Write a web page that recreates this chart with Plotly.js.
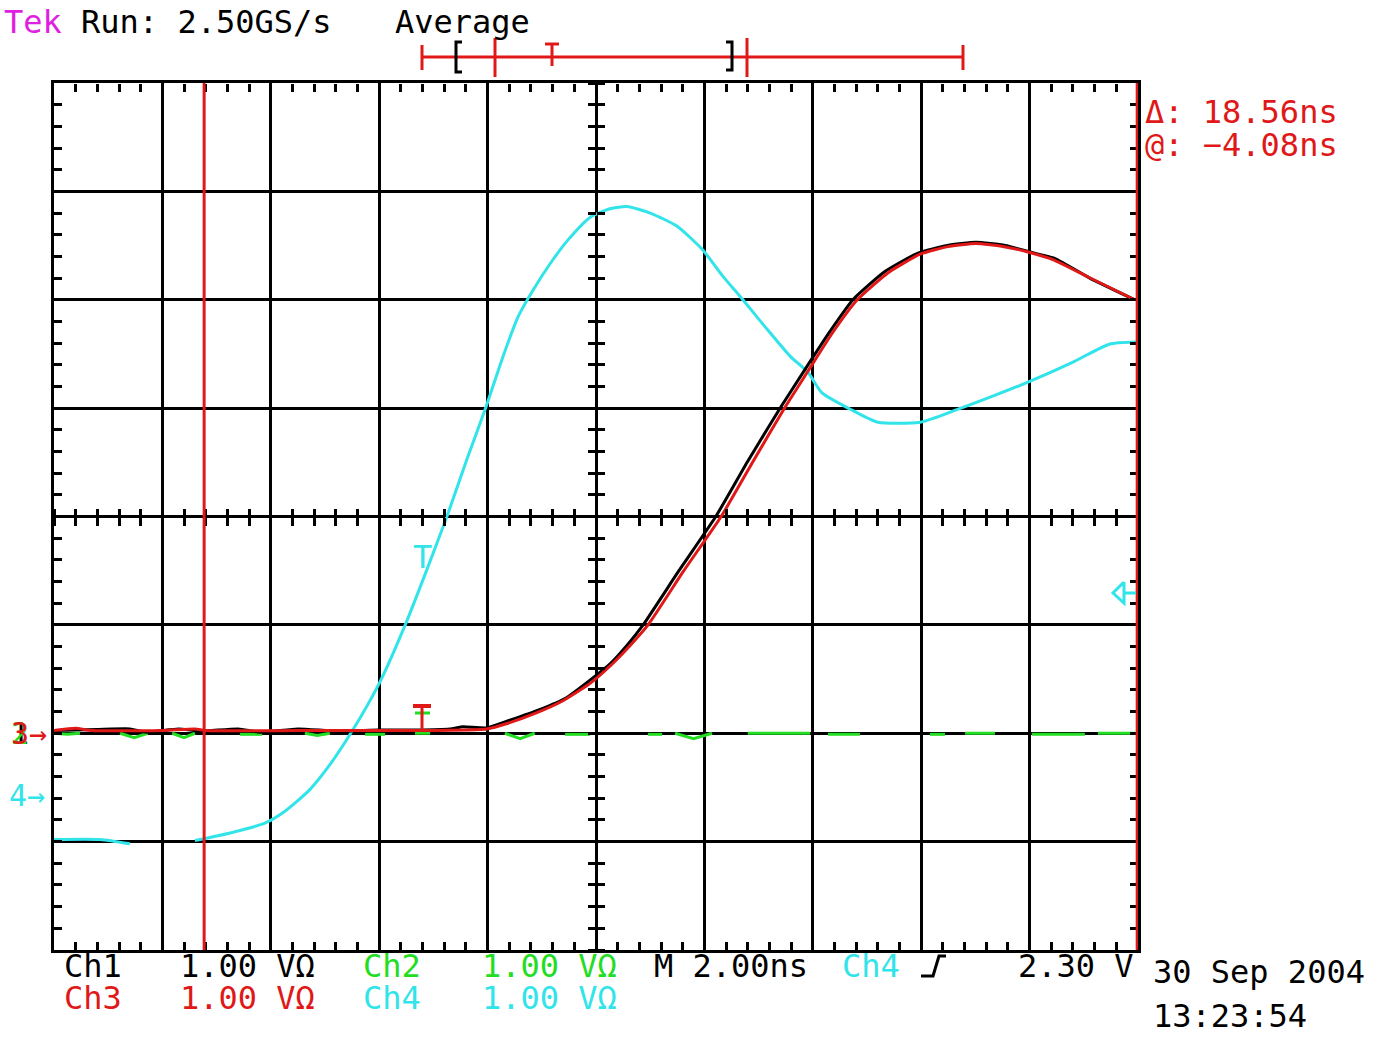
<!DOCTYPE html>
<html>
<head>
<meta charset="utf-8">
<script src="https://cdn.plot.ly/plotly-3.0.1.min.js"></script>
<style>
  html, body { margin: 0; padding: 0; background: #ffffff; }
  #chart { width: 1378px; height: 1054px; }
</style>
</head>
<body>
<div id="chart"></div>
<script>
// ---- Data (time in ns, vertical in screen divisions, 1 V/div) ----
const ch4Time  = [-10, -9.15, -8.6, null, -7.40, -6.75, -6.11, -5.74, -5.28, -4.91, -4.50, -3.99, -3.52, -3.12, -2.75, -2.38, -2.03, -1.72, -1.44, -1.16, -0.85, -0.52, -0.11, 0.26, 0.57, 1.00, 1.49, 1.97, 2.32, 2.71, 3.12, 3.58, 3.91, 4.17, 4.69, 5.20, 5.98, 6.68, 7.32, 7.97, 8.82, 9.47, 9.96];
const ch4Volts = [-2.98, -2.98, -3.02, null, -2.99, -2.92, -2.83, -2.72, -2.52, -2.29, -1.98, -1.53, -1.00, -0.49, 0.00, 0.53, 1.01, 1.47, 1.84, 2.09, 2.33, 2.55, 2.76, 2.84, 2.86, 2.80, 2.68, 2.46, 2.23, 2.00, 1.75, 1.48, 1.33, 1.14, 0.99, 0.87, 0.87, 0.99, 1.11, 1.24, 1.43, 1.59, 1.61];

const ch3Time  = [-10, -9.6, -9.3, -8.0, -7.4, -7.2, -5.5, -3.25, -2.01, -1.64, -1.09, -0.61, -0.11, 0.28, 0.63, 0.96, 1.62, 2.31, 2.90, 3.49, 3.91, 4.37, 4.82, 5.39, 5.98, 6.49, 7.01, 7.53, 7.97, 8.43, 9.08, 9.94];
const ch3Volts = [-1.975, -1.955, -1.975, -1.975, -1.96, -1.975, -1.975, -1.975, -1.96, -1.91, -1.81, -1.70, -1.54, -1.37, -1.19, -1.00, -0.50, 0.00, 0.51, 1.01, 1.34, 1.70, 2.00, 2.25, 2.42, 2.49, 2.52, 2.49, 2.44, 2.37, 2.21, 2.00];

const ch1Time  = [-10, -9.2, -8.6, -8.3, -7.7, -7.3, -6.6, -6.2, -5.5, -4.8, -4.0, -3.3, -2.7, -2.45, -2.01, -1.59, -1.03, -0.57, -0.11, 0.26, 0.57, 0.87, 1.53, 2.21, 2.80, 3.41, 3.86, 4.32, 4.74, 5.33, 5.94, 6.48, 7.01, 7.55, 8.01, 8.47, 9.11, 9.94];
const ch1Volts = [-1.975, -1.965, -1.96, -1.99, -1.96, -1.98, -1.96, -1.99, -1.96, -1.98, -1.97, -1.97, -1.96, -1.94, -1.95, -1.88, -1.78, -1.68, -1.51, -1.36, -1.19, -1.00, -0.50, 0.00, 0.51, 1.01, 1.36, 1.71, 2.00, 2.26, 2.43, 2.50, 2.53, 2.50, 2.44, 2.38, 2.20, 2.00];

const ch2Time  = [-10, -9.75, -9.52, null, -8.78, -8.52, -8.27, null, -7.82, -7.6, -7.40, null, -6.57, -6.16, null, -5.37, -5.14, -4.91, null, -4.26, -3.89, null, -3.34, -3.06, null, -1.68, -1.40, -1.13, null, -0.57, -0.11, null, 0.96, 1.22, null, 1.46, 1.80, 2.14, null, 2.80, 3.95, null, 4.28, 4.87, null, 6.16, 6.44, null, 6.81, 7.36, null, 8.04, 9.02, null, 9.26, 9.94];
const ch2Volts = [-2.0, -2.01, -2.0, null, -2.0, -2.04, -2.0, null, -2.0, -2.04, -2.0, null, -2.01, -2.01, null, -2.0, -2.02, -2.0, null, -2.01, -2.01, null, -2.0, -2.0, null, -2.0, -2.05, -2.0, null, -2.01, -2.01, null, -2.01, -2.01, null, -2.0, -2.05, -2.0, null, -2.0, -2.0, null, -2.01, -2.01, null, -2.01, -2.01, null, -2.0, -2.0, null, -2.01, -2.01, null, -2.0, -2.0];

const cursorTimes = [-7.23, 9.985];

// ---- Colours ----
const CYAN = '#30e4ea', RED = '#e01818', GREEN = '#22dd22', BLACK = '#000000', MAGENTA = '#e020e0';

// pixel -> paper helpers (plot area 54..1138 x 83..950)
const PL = 54, PR = 1138, PT = 83, PB = 950;
const px = x => (x - PL) / (PR - PL);
const py = y => (PB - y) / (PB - PT);

const lineW = 3;
const traces = [
  {x: ch2Time, y: ch2Volts, mode: 'lines', line: {color: GREEN, width: lineW}, hoverinfo: 'skip', name: 'Ch2'},
  {x: ch4Time, y: ch4Volts, mode: 'lines', line: {color: CYAN, width: lineW, shape: 'spline', smoothing: 0.6}, hoverinfo: 'skip', name: 'Ch4'},
  {x: ch1Time, y: ch1Volts, mode: 'lines', line: {color: BLACK, width: lineW, shape: 'spline', smoothing: 0.5}, hoverinfo: 'skip', name: 'Ch1'},
  {x: ch3Time, y: ch3Volts, mode: 'lines', line: {color: RED, width: lineW, shape: 'spline', smoothing: 0.5}, hoverinfo: 'skip', name: 'Ch3'},
  // anchors for the tick-only overlay axes
  {x: [null], y: [null], xaxis: 'x2', yaxis: 'y', hoverinfo: 'skip'},
  {x: [null], y: [null], xaxis: 'x3', yaxis: 'y', hoverinfo: 'skip'},
  {x: [null], y: [null], xaxis: 'x4', yaxis: 'y', hoverinfo: 'skip'},
  {x: [null], y: [null], xaxis: 'x', yaxis: 'y2', hoverinfo: 'skip'},
  {x: [null], y: [null], xaxis: 'x', yaxis: 'y3', hoverinfo: 'skip'},
  {x: [null], y: [null], xaxis: 'x', yaxis: 'y4', hoverinfo: 'skip'}
];

const tk = {ticklen: 8, tickwidth: 3, tickcolor: BLACK};
function xTickAxis(extra) {
  return Object.assign({range: [-10, 10], tick0: -10, dtick: 2, showgrid: false, zeroline: false, showline: false,
    showticklabels: false, fixedrange: true,
    minor: Object.assign({dtick: 0.4, tick0: -10, showgrid: false}, tk, {ticks: extra.ticks})}, tk, extra);
}
function yTickAxis(extra) {
  return Object.assign({range: [-4, 4], tick0: -4, dtick: 1, showgrid: false, zeroline: false, showline: false,
    showticklabels: false, fixedrange: true,
    minor: Object.assign({dtick: 0.2, tick0: -4, showgrid: false}, tk, {ticks: extra.ticks})}, tk, extra);
}

const xMain = xTickAxis({ticks: 'inside', showgrid: true, gridcolor: BLACK, gridwidth: 3, showline: true, linecolor: BLACK, linewidth: 3, mirror: true});
const yMain = yTickAxis({ticks: 'inside', showgrid: true, gridcolor: BLACK, gridwidth: 3, showline: true, linecolor: BLACK, linewidth: 3, mirror: true});

const font = (size, color) => ({family: 'DejaVu Sans Mono', size: size, color: color});
function txt(text, x, y, color, size, anchor, boxH) {
  const a = {text: text, xref: 'paper', yref: 'paper', x: px(x), y: py(y), xanchor: anchor || 'left', yanchor: 'middle',
    showarrow: false, font: font(size || 32, color)};
  if (boxH) { a.height = boxH; a.valign = 'middle'; }
  return a;
}

const annotations = [
  txt('<span style="color:' + MAGENTA + '">Tek</span> Run: 2.50GS/s', 2, 22, BLACK),
  txt('Average', 393, 22, BLACK),
  txt('\u0394: 18.56ns', 1143, 112, RED),
  txt('@: \u22124.08ns', 1143, 145, RED),
  txt('Ch1', 62, 966, BLACK, 32, 'left', 28), txt('1.00 V\u03A9', 178, 966, BLACK, 32, 'left', 28),
  txt('Ch2', 361, 966, GREEN, 32, 'left', 28), txt('1.00 V\u03A9', 480, 966, GREEN, 32, 'left', 28),
  txt('M 2.00ns', 652, 966, BLACK, 32, 'left', 28), txt('Ch4', 840, 966, CYAN, 32, 'left', 28),
  txt('2.30 V', 1016, 966, BLACK, 32, 'left', 28),
  txt('Ch3', 62, 998, RED, 32, 'left', 28), txt('1.00 V\u03A9', 178, 998, RED, 32, 'left', 28),
  txt('Ch4', 361, 998, CYAN, 32, 'left', 28), txt('1.00 V\u03A9', 480, 998, CYAN, 32, 'left', 28),
  txt('30 Sep 2004', 1151, 972, BLACK),
  txt('13:23:54', 1151, 1016, BLACK),
  txt('1', 9, 733, BLACK, 30), txt('2', 9, 733, GREEN, 30), txt('3\u2192', 9, 733, RED, 30),
  txt('4\u2192', 7, 795, CYAN, 30),
  txt('T', 422, 557, CYAN, 32, 'center')
];

function seg(x0, y0, x1, y1, color, w) {
  return {type: 'line', xref: 'paper', yref: 'paper', x0: px(x0), y0: py(y0), x1: px(x1), y1: py(y1),
    line: {color: color, width: w || 3}, layer: 'above'};
}
function path(points, color, w) {
  const d = points.map((p, i) => (i ? 'L ' : 'M ') + px(p[0]).toFixed(5) + ',' + py(p[1]).toFixed(5)).join(' ');
  return {type: 'path', xref: 'paper', yref: 'paper', path: d, line: {color: color, width: w || 3}, layer: 'above'};
}

const shapes = [];
// cursors
cursorTimes.forEach(t => shapes.push({type: 'line', xref: 'x', yref: 'paper', x0: t, x1: t, y0: 0, y1: 1,
  line: {color: RED, width: 3}, layer: 'above'}));
// record-length / trigger bar at top
shapes.push(seg(422, 57, 963, 57, RED, 3));
shapes.push(seg(422, 45, 422, 70, RED, 3));
shapes.push(seg(495, 38, 495, 77, RED, 3));
shapes.push(seg(747, 38, 747, 77, RED, 3));
shapes.push(seg(963, 45, 963, 70, RED, 3));
shapes.push(seg(545, 44, 559, 44, RED, 3));
shapes.push(seg(552, 44, 552, 66, RED, 3));
shapes.push(path([[462, 42], [456, 42], [456, 72], [462, 72]], BLACK, 3));
shapes.push(path([[726, 42], [732, 42], [732, 70], [726, 70]], BLACK, 3));
// trigger slope symbol
shapes.push(path([[921, 976], [933, 976], [939, 956], [946, 956]], BLACK, 3));
// trigger markers on screen
shapes.push(seg(413, 706, 431, 706, RED, 4));
shapes.push(seg(415, 713, 430, 713, GREEN, 3));
shapes.push(seg(422, 706, 422, 732, RED, 3));
// trigger level arrow (right)
shapes.push(path([[1124, 582], [1113, 593], [1124, 603], [1124, 582]], CYAN, 3));
shapes.push(seg(1124, 593, 1136, 593, CYAN, 3));

const layout = {
  width: 1378, height: 1054,
  margin: {l: 54, r: 240, t: 83, b: 104, pad: 0},
  paper_bgcolor: '#ffffff', plot_bgcolor: '#ffffff',
  showlegend: false,
  xaxis: xMain,
  xaxis2: xTickAxis({overlaying: 'x', anchor: 'free', position: 1, side: 'top', ticks: 'inside'}),
  xaxis3: xTickAxis({overlaying: 'x', anchor: 'free', position: 0.5, side: 'bottom', ticks: 'outside'}),
  xaxis4: xTickAxis({overlaying: 'x', anchor: 'free', position: 0.5, side: 'top', ticks: 'outside'}),
  yaxis: yMain,
  yaxis2: yTickAxis({overlaying: 'y', anchor: 'free', position: 1, side: 'right', ticks: 'inside'}),
  yaxis3: yTickAxis({overlaying: 'y', anchor: 'free', position: 0.5, side: 'left', ticks: 'outside'}),
  yaxis4: yTickAxis({overlaying: 'y', anchor: 'free', position: 0.5, side: 'right', ticks: 'outside'}),
  annotations: annotations,
  shapes: shapes
};

Plotly.newPlot('chart', traces, layout, {displayModeBar: false, staticPlot: true});
</script>
</body>
</html>
